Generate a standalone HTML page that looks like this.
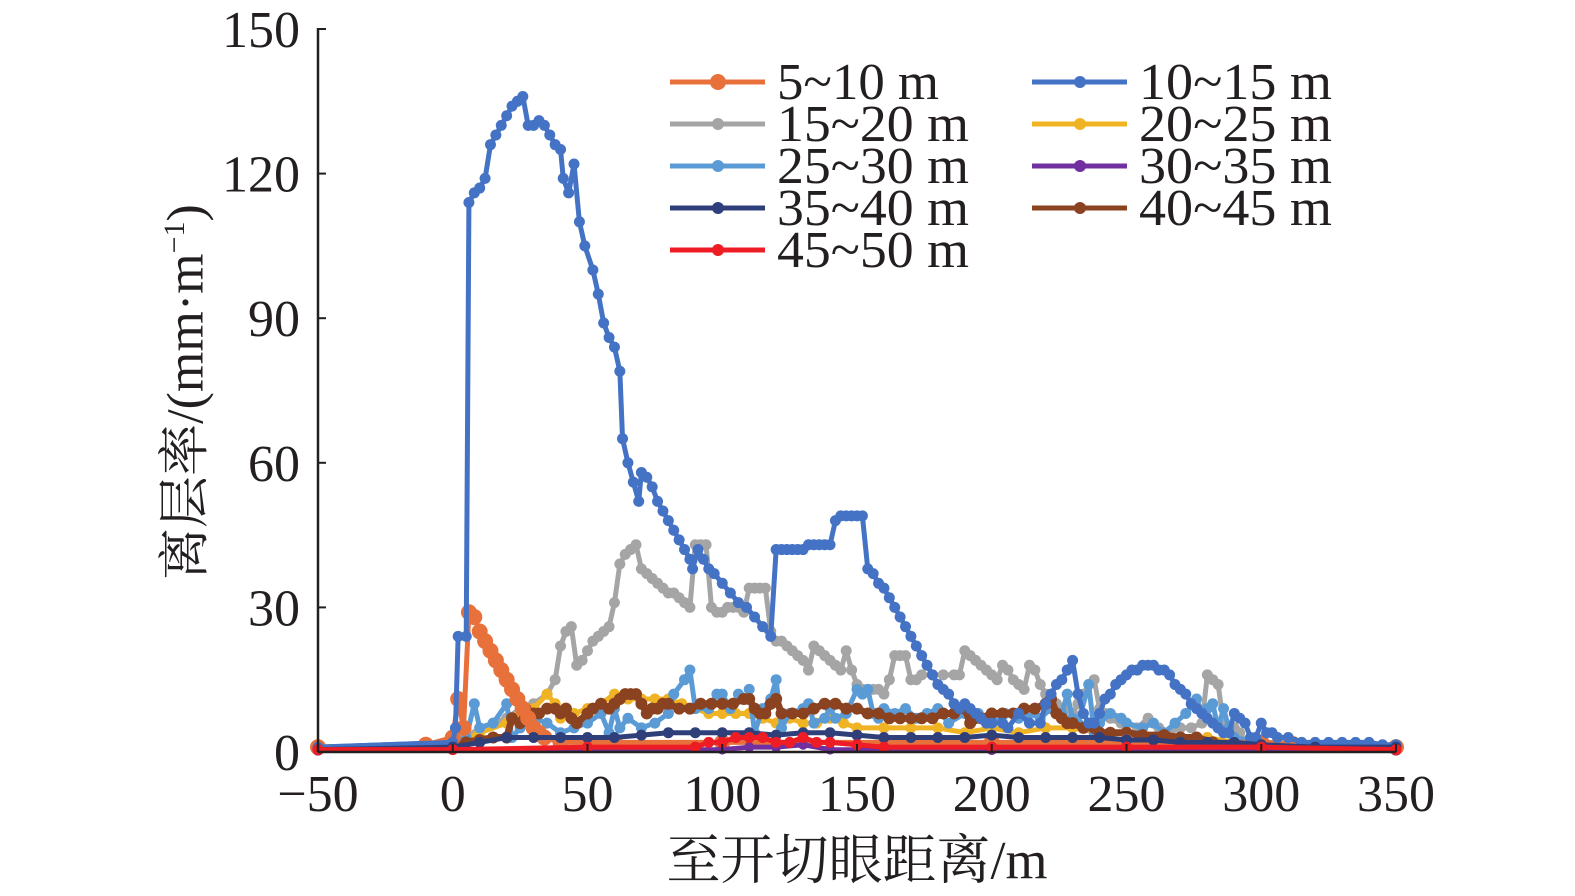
<!DOCTYPE html>
<html><head><meta charset="utf-8"><style>
html,body{margin:0;padding:0;background:#fff;}
svg{display:block;}
text{font-family:"Liberation Serif","Noto Serif CJK SC",serif;fill:#231f20;}
</style></head><body>
<svg id="chart" width="1575" height="896" viewBox="0 0 1575 896" xmlns="http://www.w3.org/2000/svg">
<g id="plot"></g>
<g id="axes"></g>
<g id="legend"></g>
</svg>
<script>
const xTicks=[-50,0,50,100,150,200,250,300,350];
const yTicks=[0,30,60,90,120,150];
const seriesNames=["5~10 m","10~15 m","15~20 m","20~25 m","25~30 m","30~35 m","35~40 m","40~45 m","45~50 m"];
const s5=[[-50,1],[-10,1.5],[0,3],[2,11],[4,5],[6,29],[8,28],[10,25],[12,23],[14,21],[16,19],[18,17],[20,15],[22,13],[24,11],[26,9],[28,7],[30,5],[32,4],[34,3],[40,2],[60,2],[100,2],[200,2],[250,2],[300,2],[350,1]];
const s10=[[-50,1],[0,2],[1,5],[2,24],[5,24],[6,114],[8,116],[10,117],[12,119],[14,126],[16,128],[18,130],[20,132],[22,134],[24,135],[26,136],[28,130],[30,130],[32,131],[34,130],[36,128],[38,126],[40,125],[41,119],[43,116],[45,122],[47,110],[49,105],[52,100],[54,95],[56,89],[58,86],[60,84],[62,79],[63,65],[65,60],[67,56],[69,52],[70,58],[72,57],[74,55],[76,52],[78,50],[80,48],[82,46],[84,44],[86,42],[88,40],[89,38],[91,42],[93,40],[95,38],[97,37],[100,35],[103,33],[106,31],[109,30],[112,28],[115,26],[118,24],[120,42],[122,42],[124,42],[126,42],[128,42],[130,42],[132,43],[134,43],[136,43],[138,43],[140,43],[142,48],[144,49],[146,49],[148,49],[150,49],[152,49],[154,38],[156,37],[158,35],[160,34],[162,32],[164,30],[166,28],[168,26],[170,24],[172,22],[174,20],[176,18],[178,16],[180,14],[182,13],[184,12],[186,10],[188,9],[190,10],[192,9],[194,8],[196,7],[198,6],[200,6],[204,6],[206,5],[210,8],[214,6],[218,6],[220,10],[222,12],[224,14],[226,15],[228,17],[230,19],[232,12],[234,8],[236,6],[238,6],[240,8],[242,11],[244,12],[246,14],[248,15],[250,16],[252,17],[254,17],[256,18],[258,18],[260,18],[262,17],[264,17],[266,16],[268,14],[270,13],[272,12],[274,10],[276,9],[278,8],[280,7],[282,6],[284,5],[286,4],[288,4],[290,8],[292,7],[294,6],[296,3],[298,3],[300,6],[302,4],[304,4],[306,3],[310,3],[315,2],[320,2],[325,2],[330,2],[335,2],[340,2],[345,1.5],[350,1.5]];
const s15=[[-50,1],[0,1.5],[5,3],[10,5],[15,6],[20,7],[25,9],[30,10],[35,12],[38,15],[40,22],[42,25],[44,26],[46,18],[48,19],[50,21],[52,23],[54,24],[56,25],[58,26],[60,31],[62,39],[64,41],[66,42],[68,43],[70,38],[72,37],[74,36],[76,35],[78,34],[80,33],[82,33],[84,32],[86,31],[88,30],[90,43],[92,43],[94,43],[96,30],[98,29],[100,29],[102,30],[104,30],[106,30],[108,29],[110,34],[112,34],[114,34],[116,34],[118,25],[120,23],[122,23],[124,22],[126,21],[128,20],[130,19],[132,17],[134,22],[136,21],[138,20],[140,19],[142,18],[144,17],[146,21],[148,17],[150,14],[152,13],[154,13],[156,13],[158,13],[160,12],[162,15],[164,20],[166,20],[168,20],[170,15],[172,15],[174,16],[178,16],[182,16],[186,16],[188,16],[190,21],[192,20],[194,19],[196,18],[198,17],[200,16],[202,15],[204,18],[206,17],[208,15],[210,14],[212,13],[214,18],[216,17],[218,14],[220,12],[222,11],[224,10],[226,9],[228,9],[230,8],[232,10],[234,12],[236,14],[238,15],[240,9],[242,8],[244,7],[246,7],[248,6],[250,6],[254,5],[258,7],[262,5],[266,4],[270,5],[274,5],[278,6],[280,16],[282,15],[284,14],[286,6],[288,4],[290,5],[292,4],[294,2],[300,1.5],[320,1],[350,1]];
const s20=[[-50,1],[0,1.5],[10,4],[20,6],[25,8],[30,9],[35,12],[38,10],[40,7],[45,8],[50,9],[55,10],[60,12],[65,11],[70,11],[75,11],[80,11],[85,10],[90,9],[95,8],[100,8],[105,8],[110,8],[115,7],[120,6],[125,7],[130,6],[135,6],[140,7],[145,6],[150,5],[160,5],[170,5],[180,5],[190,4],[200,5],[210,4],[220,5],[230,5],[240,4],[250,4],[260,3],[270,3],[280,3],[290,2],[300,2],[350,1]];
const s25=[[-50,1],[0,2],[5,3],[8,10],[10,5],[15,6],[20,10],[22,3],[25,5],[30,7],[35,6],[40,4],[45,5],[50,6],[55,8],[58,4],[60,9],[62,5],[65,7],[70,5],[75,6],[80,8],[82,12],[86,15],[88,17],[90,9],[95,9],[98,12],[100,12],[103,9],[106,12],[109,11],[110,13],[112,4],[115,9],[118,11],[120,15],[122,5],[125,8],[130,9],[132,10],[134,6],[138,7],[140,9],[142,7],[146,8],[150,13],[152,12],[154,13],[156,8],[158,7],[160,9],[164,8],[168,9],[172,7],[176,8],[180,9],[184,6],[190,8],[195,8],[200,6],[205,8],[210,7],[214,8],[218,7],[222,9],[226,8],[228,12],[230,7],[232,6],[236,14],[238,4],[240,6],[244,8],[248,7],[250,6],[256,5],[260,6],[264,4],[268,6],[272,8],[276,11],[278,8],[280,9],[282,10],[284,5],[286,9],[288,5],[290,3],[300,2],[350,1]];
const s30=[[-50,0.3],[100,0.5],[110,1],[120,1],[130,1.5],[140,0.5],[200,0.4],[350,0.3]];
const s35=[[-50,0.5],[0,1],[10,2],[20,3],[30,3],[40,3],[50,3],[60,3],[70,3.5],[80,4],[90,4],[100,4],[110,4],[120,3.5],[130,4],[140,4],[150,3.5],[160,3],[170,3],[180,3],[190,3],[200,3.5],[210,3],[220,3],[230,3],[240,3],[250,2.5],[260,2.5],[270,2],[280,2],[290,2],[300,1.5],[320,1],[350,1]];
const s40=[[-50,0.5],[0,1],[5,2],[10,2.5],[15,3],[20,3],[22,7],[25,6],[27,9],[30,8],[32,8],[35,9],[38,9],[40,8],[42,9],[44,7],[46,6],[50,8],[52,9],[55,10],[58,9],[60,10],[62,11],[64,12],[66,12],[68,12],[70,10],[72,8],[74,9],[76,9],[78,10],[80,10],[84,9],[88,9],[92,10],[96,10],[100,10],[104,10],[108,11],[110,11],[112,9],[114,8],[116,8],[118,10],[120,11],[122,8],[126,8],[130,8],[134,9],[138,10],[142,10],[146,9],[150,9],[154,8],[158,8],[162,7],[166,7],[170,7],[174,7],[178,7],[182,8],[186,8],[190,9],[192,6],[196,7],[200,8],[204,8],[208,8],[212,9],[216,9],[220,10],[222,11],[224,8],[226,7],[228,6],[230,6],[234,5],[238,5],[240,4],[244,4],[250,4],[256,3.5],[264,3.5],[270,3],[276,3],[282,2],[290,1.5],[300,1],[312,2],[320,1],[350,0.5]];
const s45=[[-50,0.5],[0,0.5],[50,1],[90,1],[95,2],[100,2],[105,3],[110,3],[115,3],[120,2],[125,2],[130,3],[135,2],[140,2],[150,1.5],[160,1],[200,1],[250,1],[300,1],[350,0.5]];

const NS="http://www.w3.org/2000/svg";
const X0=318,X1=1396,Y0=752,Y1=29;
function xs(v){return X0+(v+50)/400*(X1-X0);}
function ys(v){return Y0-v/150*(Y0-Y1);}
function mk(tag,attrs,parent){const e=document.createElementNS(NS,tag);for(const k in attrs)e.setAttribute(k,attrs[k]);parent.appendChild(e);return e;}
const plot=document.getElementById('plot'),axes=document.getElementById('axes'),legend=document.getElementById('legend');
const drawOrder=[[s15,"#a5a5a5",5.5,2],[s20,"#f0b323",5.5,3],[s25,"#5b9bd5",5.5,4],[s40,"#8b4220",6,7],[s5,"#e8703a",8,0],[s10,"#4472c4",5.5,1],[s35,"#2f3f7a",5.5,6],[s30,"#7030a0",5,5],[s45,"#ee1c25",5.5,8]];
drawOrder.forEach(([data,color,r,idx])=>{
  const g=mk('g',{},plot);
  
  
  const pl=mk('polyline',{points:data.map(d=>xs(d[0])+','+ys(d[1])).join(' '),fill:'none',stroke:color,'stroke-width':idx==7?7:5,'stroke-linejoin':'round'},g);
  
  
  data.forEach(d=>{
    const c=mk('circle',{cx:xs(d[0]),cy:ys(d[1]),r:r,fill:color},g);
    
    
  });
});
const ax=mk('line',{x1:X0,y1:Y0,x2:X1,y2:Y0,stroke:'#231f20','stroke-width':2.5},axes);


const ay=mk('line',{x1:X0,y1:Y0,x2:X0,y2:Y1-1,stroke:'#231f20','stroke-width':2.5},axes);


xTicks.forEach(t=>{
  const l=mk('line',{x1:xs(t),y1:Y0,x2:xs(t),y2:Y0-8,stroke:'#231f20','stroke-width':2},axes);
  
  
  const tx=mk('text',{x:xs(t),y:811,'text-anchor':'middle','font-size':52},axes);
  tx.textContent=(t<0?'\u2212'+(-t):t);
  
  
});
yTicks.forEach(t=>{
  const l=mk('line',{x1:X0,y1:ys(t),x2:X0+8,y2:ys(t),stroke:'#231f20','stroke-width':2},axes);
  
  
  const tx=mk('text',{x:300,y:ys(t)+18,'text-anchor':'end','font-size':52},axes);
  tx.textContent=t;
  
  
});
const legColors=["#e8703a","#4472c4","#a5a5a5","#f0b323","#5b9bd5","#7030a0","#2f3f7a","#8b4220","#ee1c25"];
seriesNames.forEach((n,i)=>{
  const col=i%2, row=Math.floor(i/2);
  const lx=col?1032:670, ty=82+row*42;
  const g=mk('g',{},legend);
  
  
  mk('line',{x1:lx,y1:ty,x2:lx+95,y2:ty,stroke:legColors[i],'stroke-width':5},g);
  mk('circle',{cx:lx+48,cy:ty,r:i==0?8:6,fill:legColors[i]},g);
  const t=mk('text',{x:lx+107,y:ty+17,'font-size':52,textLength:i==0?162:(col?193:192),lengthAdjust:'spacingAndGlyphs'},g);
  t.textContent=n;
});
</script>
<div style="position:absolute;left:0;top:0;width:1575px;height:896px;pointer-events:none;">
<div style="position:absolute;left:180px;top:392px;transform:translate(-50%,-50%) rotate(-90deg);white-space:nowrap;font-family:'Liberation Serif','Noto Serif CJK SC',serif;font-size:52px;color:#231f20;">离层率/(mm·m<sup style="font-size:30px;">−1</sup>)</div>
<div style="position:absolute;left:857px;top:856px;transform:translate(-50%,-50%);white-space:nowrap;font-family:'Liberation Serif','Noto Serif CJK SC',serif;font-size:54px;color:#231f20;">至开切眼距离/m</div>
</div>
</body></html>
